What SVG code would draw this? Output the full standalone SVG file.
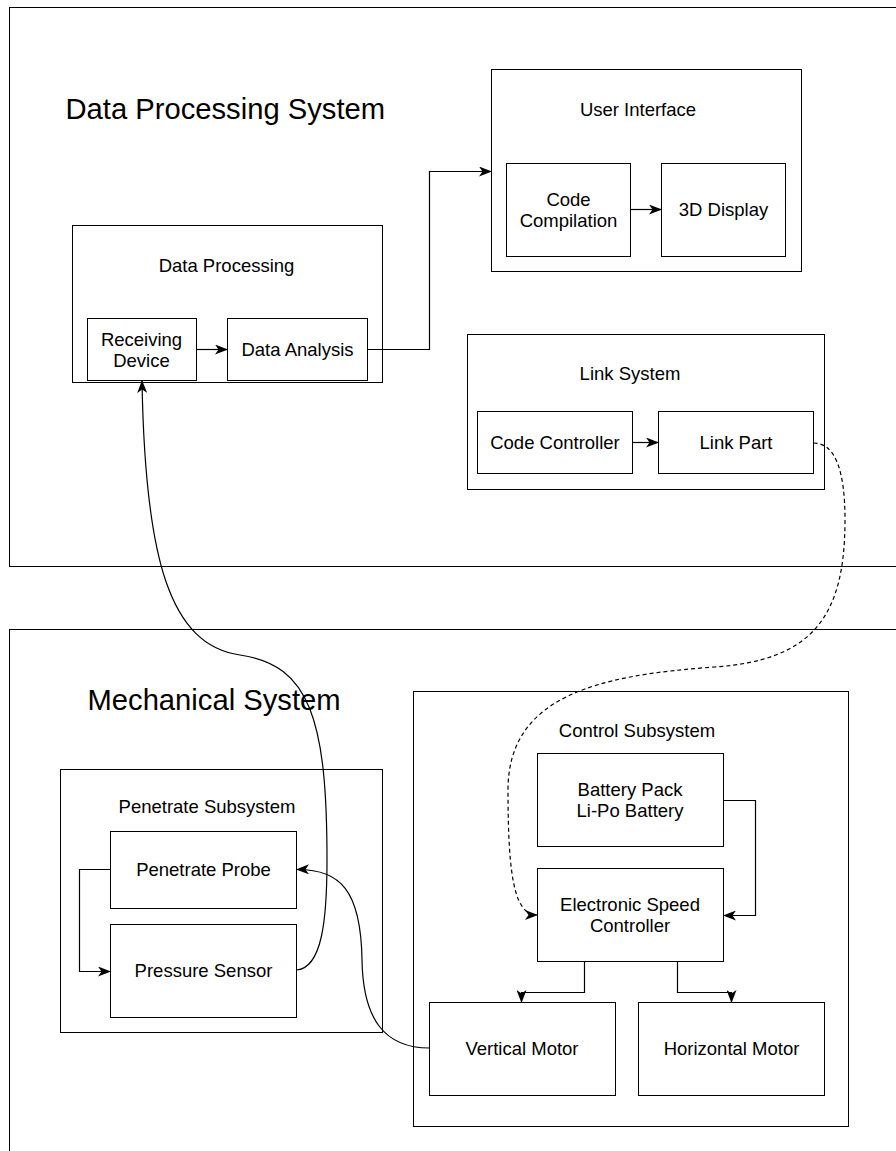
<svg xmlns="http://www.w3.org/2000/svg" width="896" height="1151" viewBox="0 0 896 1151">
<style>
.box{fill:#fff;stroke:#000;stroke-width:1}
.frame{fill:none;stroke:#000;stroke-width:1}
.lbl{font-family:"Liberation Sans",Arial,Helvetica,sans-serif;font-size:18.5px;fill:#000;text-anchor:middle}
.title{font-family:"Liberation Sans",Arial,Helvetica,sans-serif;font-size:29.2px;fill:#000}
.edge{fill:none;stroke:#000;stroke-width:1.2;marker-end:url(#arr)}
.dash{stroke-dasharray:4 3}
</style>
<defs>
<marker id="arr" markerUnits="userSpaceOnUse" viewBox="0 0 13 10" refX="12.5" refY="5" markerWidth="13" markerHeight="10" orient="auto">
<path d="M0,0 L13,5 L0,10 L3.5,5 Z" fill="#000"/>
</marker>
</defs>
<rect width="896" height="1151" fill="#fff"/>

<g id="data-processing-system">
<rect class="frame" x="9.5" y="7.5" width="900" height="559"/>
<text class="title" x="65.5" y="119">Data Processing System</text>
</g>
<g id="mechanical-system">
<rect class="frame" x="9.5" y="629.5" width="900" height="600"/>
<text class="title" x="87.5" y="710">Mechanical System</text>
</g>

<g id="data-processing">
<rect class="box" x="72.5" y="225.5" width="310" height="157"/>
<text class="lbl" x="226.5" y="271.5">Data Processing</text>
</g>
<g id="receiving-device">
<rect class="box" x="87.5" y="318.5" width="109" height="62"/>
<text class="lbl" x="141.5" y="346">Receiving</text>
<text class="lbl" x="141.5" y="367">Device</text>
</g>
<g id="data-analysis">
<rect class="box" x="227.5" y="318.5" width="140" height="62"/>
<text class="lbl" x="297.5" y="356">Data Analysis</text>
</g>

<g id="user-interface">
<rect class="box" x="491.5" y="69.5" width="310" height="202"/>
<text class="lbl" x="638" y="115.5">User Interface</text>
</g>
<g id="code-compilation">
<rect class="box" x="506.5" y="163.5" width="124" height="93"/>
<text class="lbl" x="568.5" y="206">Code</text>
<text class="lbl" x="568.5" y="227">Compilation</text>
</g>
<g id="display-3d">
<rect class="box" x="661.5" y="163.5" width="124" height="93"/>
<text class="lbl" x="723.5" y="216">3D Display</text>
</g>

<g id="link-system">
<rect class="box" x="467.5" y="334.5" width="357" height="155"/>
<text class="lbl" x="630" y="380">Link System</text>
</g>
<g id="code-controller">
<rect class="box" x="477.5" y="411.5" width="155" height="62"/>
<text class="lbl" x="555" y="449">Code Controller</text>
</g>
<g id="link-part">
<rect class="box" x="658.5" y="411.5" width="155" height="62"/>
<text class="lbl" x="736" y="449">Link Part</text>
</g>

<g id="control-subsystem">
<rect class="box" x="413.5" y="691.5" width="435" height="435"/>
<text class="lbl" x="637" y="737">Control Subsystem</text>
</g>
<g id="battery-pack">
<rect class="box" x="537.5" y="753.5" width="186" height="93"/>
<text class="lbl" x="630" y="796">Battery Pack</text>
<text class="lbl" x="630" y="817">Li-Po Battery</text>
</g>
<g id="esc">
<rect class="box" x="537.5" y="868.5" width="186" height="93"/>
<text class="lbl" x="630" y="911">Electronic Speed</text>
<text class="lbl" x="630" y="932">Controller</text>
</g>
<g id="vertical-motor">
<rect class="box" x="429.5" y="1002.5" width="186" height="93"/>
<text class="lbl" x="522" y="1055">Vertical Motor</text>
</g>
<g id="horizontal-motor">
<rect class="box" x="638.5" y="1002.5" width="186" height="93"/>
<text class="lbl" x="731.5" y="1055">Horizontal Motor</text>
</g>

<g id="penetrate-subsystem">
<rect class="box" x="60.5" y="769.5" width="322" height="263"/>
<text class="lbl" x="207" y="813">Penetrate Subsystem</text>
</g>
<g id="penetrate-probe">
<rect class="box" x="110.5" y="831.5" width="186" height="77"/>
<text class="lbl" x="203.5" y="876">Penetrate Probe</text>
</g>
<g id="pressure-sensor">
<rect class="box" x="110.5" y="924.5" width="186" height="93"/>
<text class="lbl" x="203.5" y="977">Pressure Sensor</text>
</g>

<g id="connectors">
<path class="edge" d="M196.5,349.5 L227.5,349.5"/>
<path class="edge" d="M367.5,349.5 L429.5,349.5 L429.5,171.5 L491.5,171.5"/>
<path class="edge" d="M630.5,209.5 L661.5,209.5"/>
<path class="edge" d="M632.5,442.5 L658.5,442.5"/>
<path class="edge dash" d="M813.5,443 C835,443 845,470 845,520 C845,620 810,660 715,667 C600,675 508,695 508,790 C508,880 515,915 537.5,915"/>
<path class="edge" d="M723.5,800.5 L755.5,800.5 L755.5,915.5 L723.5,915.5"/>
<path class="edge" d="M584.5,961.5 L584.5,992.5 L521.5,992.5 L521.5,1002.5"/>
<path class="edge" d="M677.5,961.5 L677.5,992.5 L731.5,992.5 L731.5,1002.5"/>
<path class="edge" d="M110.5,869.5 L79.5,869.5 L79.5,971.5 L110.5,971.5"/>
<path class="edge" d="M296.5,970 C322,968 327,920 327,860 C327,720 310,665 240,655 C170,645 145,560 142,380.5"/>
<path class="edge" d="M429.5,1048 C385,1048 363,1020 362,960 C361,890 340,869 296.5,869.5"/>
</g>
</svg>
